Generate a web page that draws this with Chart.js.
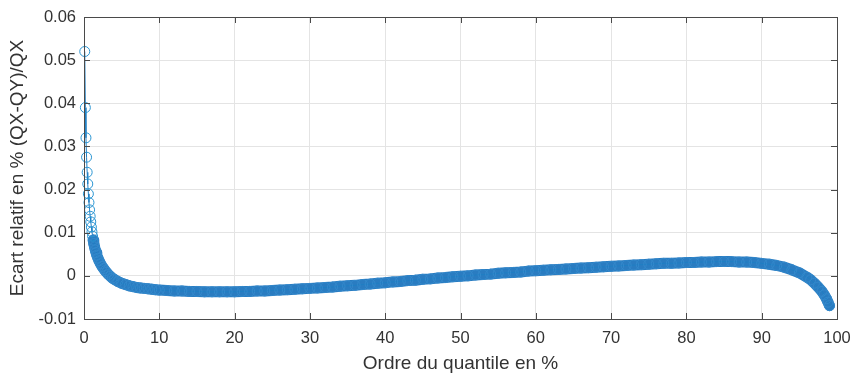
<!DOCTYPE html>
<html>
<head>
<meta charset="utf-8">
<script src="https://cdn.jsdelivr.net/npm/chart.js@4"></script>
<style>
  body { margin: 0; background: #fff; }
  canvas { display: block; }
</style>
</head>
<body>
<canvas id="myChart" width="854" height="376"></canvas>
<script>
const ctx = document.getElementById("myChart");

// ordre du quantile (%)
const ordres = [
  0.1, 0.18, 0.26, 0.34, 0.42, 0.5, 0.58, 0.66, 0.74, 0.82,
  0.9, 0.98, 1.06, 1.14, 1.22, 1.3, 1.4, 1.5, 1.6, 1.7,
  1.85, 2.0, 2.2, 2.4, 2.6, 2.8, 3.0, 3.25, 3.5, 3.75,
  4.0, 4.5, 5.0, 5.5, 6.0, 6.5, 7.0, 7.5, 8.0, 8.5,
  9.0, 9.5, 10,
  11, 12, 13, 14, 15, 16, 17, 18, 19, 20,
  21, 22, 23, 24, 25, 26, 27, 28, 29, 30,
  31, 32, 33, 34, 35, 36, 37, 38, 39, 40,
  41, 42, 43, 44, 45, 46, 47, 48, 49, 50,
  51, 52, 53, 54, 55, 56, 57, 58, 59, 60,
  61, 62, 63, 64, 65, 66, 67, 68, 69, 70,
  71, 72, 73, 74, 75, 76, 77, 78, 79, 80,
  81, 82, 83, 84, 85, 86, 87, 88, 89, 90,
  91, 92, 93, 94, 95, 96, 96.5, 97, 97.5, 98,
  98.3, 98.6, 98.8, 99.0
];

// ecart relatif (QX-QY)/QX
const ecarts = [
  0.052, 0.039, 0.032, 0.0275, 0.024, 0.0213, 0.019, 0.017, 0.0153, 0.0138,
  0.0125, 0.0113, 0.0102, 0.0092, 0.0083, 0.0075, 0.0067, 0.006, 0.0054, 0.0048,
  0.0041, 0.0035, 0.0028, 0.0022, 0.0017, 0.0012, 0.0008, 0.0003, -0.0001, -0.0005,
  -0.0008, -0.0013, -0.0017, -0.0020, -0.0023, -0.0025, -0.0027, -0.0028, -0.0029, -0.0030,
  -0.0031, -0.0032, -0.0033,
  -0.0034, -0.0035, -0.0035, -0.0036, -0.0036, -0.0037, -0.0037, -0.0037, -0.0037, -0.0037,
  -0.0036, -0.0036, -0.0035, -0.0035, -0.0034, -0.0033, -0.0032, -0.0031, -0.0030, -0.0029,
  -0.0028, -0.0027, -0.0026, -0.0024, -0.0023, -0.0022, -0.0020, -0.0019, -0.0017, -0.0016,
  -0.0014, -0.0013, -0.0011, -0.0010, -0.0008, -0.0007, -0.0005, -0.0004, -0.0002, -0.0001,
  0.0000, 0.0002, 0.0003, 0.0004, 0.0006, 0.0007, 0.0008, 0.0009, 0.0011, 0.0012,
  0.0013, 0.0014, 0.0015, 0.0016, 0.0017, 0.0018, 0.0019, 0.0020, 0.0021, 0.0022,
  0.0023, 0.0024, 0.0025, 0.0026, 0.0027, 0.0028, 0.0029, 0.0029, 0.0030, 0.0031,
  0.0031, 0.0032, 0.0032, 0.0033, 0.0033, 0.0033, 0.0032, 0.0032, 0.0031, 0.0029,
  0.0027, 0.0024, 0.0020, 0.0014, 0.0007, -0.0003, -0.0009, -0.0017, -0.0026, -0.0036,
  -0.0044, -0.0053, -0.0061, -0.0069
];

const xTicks = [0, 10, 20, 30, 40, 50, 60, 70, 80, 90, 100];
const xTickLabels = ["0", "10", "20", "30", "40", "50", "60", "70", "80", "90", "100"];
const yTicks = [-0.01, 0, 0.01, 0.02, 0.03, 0.04, 0.05, 0.06];
const yTickLabels = ["-0.01", "0", "0.01", "0.02", "0.03", "0.04", "0.05", "0.06"];

const points = ordres.map((x, i) => ({ x: x, y: ecarts[i] }));
// la bande epaisse (cercles superposes) a partir de x ~ 1.2
const bande = points.filter((p) => p.x >= 1.2);

const AXIS_COLOR = "#4a4a4a";
const TEXT_COLOR = "#333333";
const FONT = "'Liberation Sans', Arial, Helvetica, sans-serif";

// ticks vers l'interieur + cadre complet (style MATLAB)
const boxPlugin = {
  id: "boxPlugin",
  afterDraw(chart) {
    const { ctx: c, chartArea: a, scales } = chart;
    const len = 6;
    c.save();
    c.strokeStyle = AXIS_COLOR;
    c.lineWidth = 1;
    c.beginPath();
    xTicks.forEach((v) => {
      const px = Math.round(scales.x.getPixelForValue(v)) + 0.5;
      c.moveTo(px, a.bottom);
      c.lineTo(px, a.bottom - len);
      c.moveTo(px, a.top);
      c.lineTo(px, a.top + len);
    });
    yTicks.forEach((v) => {
      const py = Math.round(scales.y.getPixelForValue(v)) + 0.5;
      c.moveTo(a.left, py);
      c.lineTo(a.left + len, py);
      c.moveTo(a.right, py);
      c.lineTo(a.right - len, py);
    });
    c.stroke();
    c.strokeRect(Math.round(a.left) + 0.5, Math.round(a.top) + 0.5,
      Math.round(a.right - a.left), Math.round(a.bottom - a.top));
    c.restore();
  },
};

new Chart(ctx, {
  type: "line",
  data: {
    datasets: [
      {
        data: points,
        borderColor: "#1f7fc4",
        borderWidth: 1,
        pointRadius: 5,
        pointBorderWidth: 1,
        pointBorderColor: (c) => (c.raw && c.raw.x < 1.2 ? "#2a95d2" : "#3389cc"),
        pointBackgroundColor: "rgba(0,0,0,0)",
        pointStyle: "circle",
        tension: 0,
        clip: false,
      },
      {
        data: bande,
        borderColor: "#2a7cc1",
        borderWidth: 11,
        borderCapStyle: "round",
        borderJoinStyle: "round",
        pointRadius: 0,
        tension: 0,
        clip: false,
      },
    ],
  },
  options: {
    responsive: false,
    animation: false,
    layout: { padding: { top: 17, right: 17, left: 0, bottom: 0 } },
    plugins: { legend: { display: false }, tooltip: { enabled: false } },
    scales: {
      x: {
        type: "linear",
        min: 0,
        max: 100,
        afterBuildTicks: (scale) => {
          scale.ticks = xTicks.map((v) => ({ value: v }));
        },
        afterFit: (scale) => {
          scale.height = 57;
          scale.paddingLeft = 0;
          scale.paddingRight = 0;
        },
        ticks: {
          callback: (v) => xTickLabels[xTicks.indexOf(v)],
          color: TEXT_COLOR,
          font: { family: FONT, size: 16.5 },
          padding: 10,
          maxRotation: 0,
        },
        grid: { color: "#e4e4e4", drawTicks: false },
        border: { display: false },
        title: {
          display: true,
          text: "Ordre du quantile en %",
          color: TEXT_COLOR,
          font: { family: FONT, size: 19 },
          padding: { top: 0, bottom: 1 },
        },
      },
      y: {
        type: "linear",
        min: -0.01,
        max: 0.06,
        afterBuildTicks: (scale) => {
          scale.ticks = yTicks.map((v) => ({ value: v }));
        },
        afterFit: (scale) => {
          scale.width = 84;
          scale.paddingTop = 0;
          scale.paddingBottom = 0;
        },
        ticks: {
          callback: (v) => yTickLabels[yTicks.indexOf(v)],
          color: TEXT_COLOR,
          font: { family: FONT, size: 16.5 },
          padding: 8,
        },
        grid: { color: "#e4e4e4", drawTicks: false },
        border: { display: false },
        title: {
          display: true,
          text: "Ecart relatif en % (QX-QY)/QX",
          color: TEXT_COLOR,
          font: { family: FONT, size: 19 },
          padding: { top: 6, bottom: 0 },
        },
      },
    },
  },
  plugins: [boxPlugin],
});
</script>
</body>
</html>
